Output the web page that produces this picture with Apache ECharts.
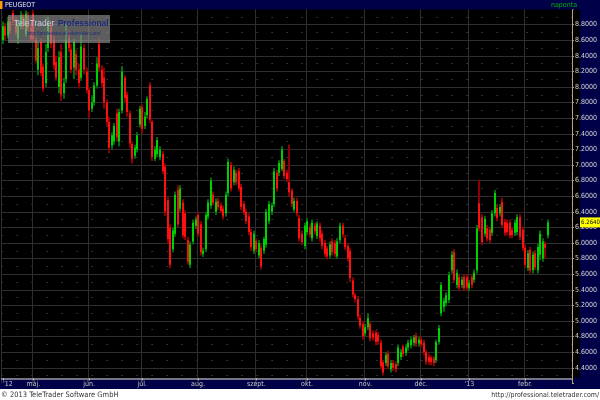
<!DOCTYPE html>
<html>
<head>
<meta charset="utf-8">
<title>PEUGEOT</title>
<script src="https://cdn.jsdelivr.net/npm/echarts@6/dist/echarts.min.js"></script>
<style>
  html, body { margin: 0; padding: 0; background: #ffffff; }
  #chart { width: 600px; height: 400px; }
</style>
</head>
<body>
<div id="chart"></div>
<script>
// trading calendar: first day, last slot on the axis, exchange holidays
var firstDay = '2012-04-13';
var lastSlot = '2013-02-27';
var holidays = ['2012-05-01', '2012-12-25', '2012-12-26', '2013-01-01'];
var monthNames = ['jan.', 'febr.', 'márc.', 'ápr.', 'máj.', 'jún.', 'júl.', 'aug.', 'szept.', 'okt.', 'nov.', 'dec.'];

// daily candles [open, close, low, high]
var candles = [
  [8.60, 8.78, 8.55, 8.84], [8.78, 8.66, 8.60, 8.82], [8.66, 8.84, 8.62, 8.90], [8.84, 8.72, 8.68, 8.90],
  [8.95, 8.86, 8.82, 8.99], [8.86, 8.70, 8.66, 8.90], [8.62, 8.80, 8.55, 8.86], [8.78, 8.92, 8.74, 8.97],
  [8.90, 8.78, 8.74, 8.94], [8.68, 8.94, 8.64, 8.98], [8.92, 8.76, 8.70, 8.96], [8.76, 8.62, 8.58, 8.82],
  [8.94, 8.62, 8.58, 8.98], [8.60, 8.34, 8.30, 8.64], [8.22, 8.50, 8.15, 8.58], [8.58, 8.18, 8.14, 8.62],
  [8.26, 7.98, 7.94, 8.30], [8.05, 8.45, 8.00, 8.55], [8.50, 8.82, 8.45, 8.90], [8.78, 8.55, 8.50, 8.84],
  [8.60, 8.28, 8.22, 8.66], [8.32, 8.12, 8.08, 8.40], [8.00, 8.38, 7.92, 8.46], [8.45, 7.90, 7.82, 8.55],
  [7.92, 8.05, 7.85, 8.12], [8.10, 8.60, 8.05, 8.80], [8.62, 8.50, 8.45, 8.72], [8.48, 8.22, 8.18, 8.55],
  [8.25, 8.58, 8.10, 8.62], [8.42, 8.22, 8.15, 8.48], [8.22, 8.05, 7.98, 8.30], [8.12, 8.52, 8.08, 8.70],
  [8.50, 8.22, 8.16, 8.55], [8.20, 7.96, 7.92, 8.25], [7.96, 7.70, 7.60, 8.00], [7.72, 7.80, 7.68, 7.88],
  [7.80, 8.02, 7.76, 8.06], [8.02, 8.30, 7.98, 8.38], [8.55, 8.25, 8.20, 8.62], [8.22, 8.05, 8.00, 8.28],
  [8.12, 7.80, 7.72, 8.25], [7.80, 7.55, 7.50, 7.84], [7.55, 7.22, 7.15, 7.62], [7.25, 7.38, 7.20, 7.42],
  [7.30, 7.50, 7.26, 7.54], [7.66, 7.36, 7.30, 7.72], [7.30, 7.68, 7.24, 7.72], [7.70, 8.20, 7.66, 8.27],
  [8.12, 7.86, 7.80, 8.15], [7.90, 7.68, 7.62, 7.94], [7.66, 7.28, 7.22, 7.70], [7.27, 7.08, 7.02, 7.30],
  [7.12, 7.22, 7.08, 7.26], [7.20, 7.38, 7.16, 7.42], [7.52, 7.72, 7.48, 7.76], [7.74, 7.46, 7.40, 7.78],
  [7.50, 7.62, 7.46, 7.68], [7.64, 7.85, 7.60, 7.88], [8.02, 7.58, 7.54, 8.06], [7.55, 7.10, 7.05, 7.58],
  [7.08, 7.20, 7.05, 7.24], [7.14, 7.32, 7.10, 7.36], [7.10, 7.20, 7.06, 7.24], [7.14, 6.92, 6.88, 7.18],
  [6.98, 6.40, 6.35, 7.02], [6.55, 6.05, 6.00, 6.60], [6.20, 5.72, 5.68, 6.24], [5.92, 6.16, 5.88, 6.20],
  [6.12, 6.62, 6.08, 6.66], [6.68, 6.24, 6.20, 6.74], [6.44, 6.70, 6.40, 6.74], [6.52, 6.10, 6.06, 6.56],
  [6.38, 6.08, 6.04, 6.42], [6.04, 5.76, 5.72, 6.08], [5.72, 5.98, 5.68, 6.02], [6.02, 6.26, 5.98, 6.30],
  [6.22, 6.30, 6.18, 6.34], [6.36, 6.12, 6.08, 6.40], [6.24, 5.88, 5.84, 6.28], [5.86, 5.90, 5.82, 5.94],
  [5.92, 6.36, 5.88, 6.40], [6.34, 6.52, 6.30, 6.56], [6.48, 6.80, 6.44, 6.84], [6.62, 6.52, 6.48, 6.66],
  [6.40, 6.53, 6.36, 6.57], [6.54, 6.46, 6.42, 6.58], [6.48, 6.41, 6.38, 6.52], [6.44, 6.34, 6.30, 6.48],
  [6.38, 6.62, 6.34, 6.66], [6.64, 7.04, 6.60, 7.08], [7.00, 6.70, 6.66, 7.04], [6.78, 6.94, 6.74, 6.98],
  [6.90, 6.78, 6.74, 6.94], [6.92, 6.70, 6.66, 6.96], [6.72, 6.46, 6.42, 6.76], [6.50, 6.39, 6.36, 6.54],
  [6.40, 6.28, 6.24, 6.44], [6.34, 6.14, 6.10, 6.38], [6.14, 5.95, 5.90, 6.18], [5.90, 6.12, 5.86, 6.16],
  [6.03, 5.92, 5.88, 6.06], [5.84, 6.00, 5.80, 6.04], [5.94, 5.70, 5.66, 5.98], [5.90, 6.05, 5.86, 6.08],
  [5.98, 6.40, 5.94, 6.44], [6.28, 6.50, 6.24, 6.54], [6.40, 6.48, 6.36, 6.52], [6.50, 6.92, 6.46, 6.96],
  [6.90, 6.70, 6.66, 6.94], [6.90, 7.03, 6.86, 7.06], [6.95, 7.20, 6.92, 7.24], [7.05, 6.86, 6.82, 7.08],
  [6.90, 6.82, 6.78, 6.94], [6.78, 6.65, 6.60, 7.26], [6.67, 6.50, 6.46, 6.70], [6.43, 6.54, 6.40, 6.58],
  [6.54, 6.38, 6.34, 6.58], [6.32, 6.06, 6.02, 6.36], [6.12, 6.01, 5.97, 6.16], [5.96, 6.22, 5.92, 6.26],
  [6.14, 6.28, 6.10, 6.32], [6.20, 6.11, 6.07, 6.24], [6.06, 6.26, 6.02, 6.30], [6.22, 6.15, 6.11, 6.26],
  [6.09, 6.25, 6.05, 6.28], [6.22, 6.06, 6.02, 6.26], [6.12, 5.96, 5.92, 6.16], [6.00, 5.86, 5.82, 6.04],
  [5.93, 5.83, 5.79, 5.96], [5.84, 5.98, 5.80, 6.02], [6.02, 5.88, 5.84, 6.06], [6.00, 5.86, 5.82, 6.04],
  [5.83, 6.02, 5.80, 6.06], [6.04, 6.22, 6.00, 6.26], [6.22, 6.11, 6.07, 6.26], [6.06, 5.95, 5.91, 6.10],
  [5.96, 5.80, 5.76, 6.00], [5.90, 5.55, 5.50, 5.94], [5.52, 5.34, 5.30, 5.56], [5.33, 5.28, 5.24, 5.36],
  [5.28, 5.06, 5.02, 5.32], [5.04, 4.94, 4.90, 5.08], [4.96, 4.80, 4.76, 5.00], [4.84, 4.92, 4.80, 4.96],
  [4.92, 5.04, 4.88, 5.10], [4.96, 4.78, 4.74, 5.00], [4.84, 4.79, 4.75, 4.88], [4.85, 4.73, 4.69, 4.88],
  [4.82, 4.74, 4.70, 4.86], [4.72, 4.42, 4.38, 4.76], [4.47, 4.34, 4.30, 4.50], [4.46, 4.56, 4.42, 4.60],
  [4.58, 4.42, 4.38, 4.62], [4.38, 4.46, 4.34, 4.50], [4.46, 4.40, 4.36, 4.50], [4.45, 4.38, 4.34, 4.48],
  [4.46, 4.66, 4.42, 4.70], [4.54, 4.60, 4.50, 4.64], [4.67, 4.58, 4.54, 4.70], [4.59, 4.66, 4.55, 4.70],
  [4.66, 4.72, 4.62, 4.76], [4.69, 4.76, 4.65, 4.80], [4.72, 4.79, 4.68, 4.82], [4.81, 4.71, 4.67, 4.85],
  [4.71, 4.76, 4.67, 4.80], [4.76, 4.70, 4.66, 4.80], [4.72, 4.60, 4.56, 4.76], [4.60, 4.48, 4.44, 4.63],
  [4.54, 4.48, 4.44, 4.58], [4.53, 4.47, 4.43, 4.56], [4.52, 4.46, 4.42, 4.55], [4.50, 4.73, 4.46, 4.76],
  [4.73, 4.91, 4.70, 4.95], [5.10, 5.46, 5.06, 5.50], [5.18, 5.26, 5.12, 5.30], [5.23, 5.33, 5.19, 5.37],
  [5.27, 5.59, 5.23, 5.63], [5.65, 5.85, 5.61, 5.89], [5.88, 5.53, 5.49, 5.92], [5.46, 5.62, 5.42, 5.66],
  [5.56, 5.43, 5.39, 5.60], [5.46, 5.53, 5.42, 5.57], [5.56, 5.42, 5.38, 5.60], [5.56, 5.43, 5.39, 5.60],
  [5.42, 5.49, 5.38, 5.53], [5.56, 5.46, 5.42, 5.60], [5.53, 5.62, 5.49, 5.66], [5.65, 6.19, 5.61, 6.23],
  [6.51, 6.19, 6.15, 6.81], [6.33, 6.01, 5.97, 6.37], [6.12, 6.31, 6.08, 6.35], [6.19, 6.06, 6.02, 6.23],
  [6.17, 6.04, 6.00, 6.21], [6.13, 6.38, 6.09, 6.42], [6.38, 6.64, 6.34, 6.68], [6.45, 6.32, 6.28, 6.49],
  [6.38, 6.46, 6.34, 6.50], [6.53, 6.23, 6.19, 6.58], [6.27, 6.13, 6.09, 6.31], [6.26, 6.14, 6.10, 6.30],
  [6.26, 6.10, 6.06, 6.30], [6.17, 6.10, 6.06, 6.20], [6.13, 6.26, 6.09, 6.30], [6.14, 6.33, 6.10, 6.37],
  [6.33, 6.08, 6.04, 6.37], [6.17, 5.94, 5.90, 6.21], [5.94, 5.72, 5.68, 5.98], [5.68, 5.87, 5.64, 5.91],
  [5.91, 5.65, 5.61, 5.95], [5.65, 5.85, 5.61, 5.89], [5.87, 5.69, 5.65, 5.91], [5.65, 5.95, 5.61, 5.99],
  [5.85, 6.12, 5.78, 6.16], [5.80, 6.02, 5.76, 6.06], [5.99, 5.94, 5.80, 6.02], [6.10, 6.264, 6.06, 6.30]
];

// price scale
var yMin = 4.2;
var yMax = 9.0;
var yStep = 0.2;

var narrow = "'Liberation Sans Narrow', 'DejaVu Sans Condensed', 'Liberation Sans', sans-serif";
var navy = '#000048';

function tradingDays(from, to) {
    var out = [];
    var d = new Date(from + 'T00:00:00Z');
    var end = new Date(to + 'T00:00:00Z');
    while (d <= end) {
        var s = d.toISOString().slice(0, 10);
        var wd = d.getUTCDay();
        if (wd !== 0 && wd !== 6 && holidays.indexOf(s) < 0) out.push(s);
        d.setUTCDate(d.getUTCDate() + 1);
    }
    return out;
}

var dates = tradingDays(firstDay, lastSlot);

// first trading day of each month gets a tick, a grid line and a label
function isMonthStart(i) {
    return i === 0 || dates[i].slice(5, 7) !== dates[i - 1].slice(5, 7);
}
function monthLabel(value, i) {
    if (i === 0) return "{first|'" + value.slice(2, 4) + '}';
    var m = +value.slice(5, 7) - 1;
    if (m === 0) return "'" + value.slice(2, 4);
    return monthNames[m];
}

var lastClose = candles[candles.length - 1][1];

var chart = echarts.init(document.getElementById('chart'));

function renderCandle(params, api) {
    var i = api.value(0);
    var o = api.coord([i, api.value(1)]);
    var c = api.coord([i, api.value(2)]);
    var lo = api.coord([i, api.value(3)]);
    var hi = api.coord([i, api.value(4)]);
    var up = api.value(2) >= api.value(1);
    var x = Math.round(o[0]) - 1;
    var top = Math.min(o[1], c[1]);
    var h = Math.max(Math.abs(o[1] - c[1]), 1);
    return {
        type: 'group',
        children: [
            { type: 'rect', shape: { x: x, y: hi[1], width: 2, height: lo[1] - hi[1] },
              style: { fill: up ? '#006a10' : '#8c0000' } },
            { type: 'rect', shape: { x: x, y: top, width: 2, height: h },
              style: { fill: up ? '#00d000' : '#ff1010' } }
        ]
    };
}

function baseGraphics() {
    return [
        // plot background and frame panels
        { type: 'rect', z: -1, silent: true, shape: { x: 0, y: 9, width: 580, height: 370 }, style: { fill: '#000000' } },
        { type: 'rect', z: -1, silent: true, shape: { x: 0, y: 378, width: 580, height: 11 }, style: { fill: navy } },
        { type: 'rect', z: -1, silent: true, shape: { x: 580, y: 0, width: 20, height: 389 }, style: { fill: navy } },
        { type: 'rect', z: 20, silent: true, shape: { x: 0, y: 0, width: 600, height: 9.5 }, style: { fill: navy } },
        { type: 'rect', z: 21, silent: true, shape: { x: 0, y: 1, width: 2.5, height: 8 }, style: { fill: '#ff9900' } },
        { type: 'text', z: 21, silent: true, x: 5, y: 5,
          style: { text: 'PEUGEOT', fill: '#e8e8e8', font: '7px ' + narrow, verticalAlign: 'middle' } },
        { type: 'text', z: 21, silent: true, x: 577, y: 5,
          style: { text: 'naponta', fill: '#00b000', font: '7px ' + narrow, align: 'right', verticalAlign: 'middle' } },
        // watermark
        { type: 'rect', z: 30, silent: true, shape: { x: 8, y: 15, width: 102, height: 28 },
          style: { fill: 'rgba(150,150,150,0.62)' } },
        { type: 'text', z: 31, silent: true, x: 14, y: 18,
          style: {
              text: '{t|TeleTrader} {p|Professional}',
              rich: {
                  t: { fill: '#c6cbe0', font: '8.5px "Liberation Sans", sans-serif' },
                  p: { fill: '#1c2a7a', font: 'bold 8.5px "Liberation Sans", sans-serif' }
              }
          } },
        { type: 'text', z: 31, silent: true, x: 27, y: 31,
          style: { text: 'http://professional.teletrader.com/', fill: '#1c2a7a', font: '5px "Liberation Sans", sans-serif' } },
        // footer
        { type: 'text', silent: true, x: 1, y: 395,
          style: { text: '\u00a9 2013 TeleTrader Software GmbH', fill: '#333333', font: '7.5px ' + narrow, verticalAlign: 'middle' } },
        { type: 'text', silent: true, x: 599, y: 395,
          style: { text: 'http://professional.teletrader.com/', fill: '#333333', font: '7px ' + narrow, align: 'right', verticalAlign: 'middle' } }
    ];
}

chart.setOption({
    backgroundColor: '#ffffff',
    animation: false,
    grid: { left: 0, right: 20, top: 9, bottom: 16.6 },
    xAxis: {
        type: 'category',
        data: dates,
        boundaryGap: true,
        offset: -5,
        axisLine: { show: true, lineStyle: { color: '#9c9c9c', width: 1.5 } },
        axisTick: { show: true, alignWithLabel: true, interval: isMonthStart, length: 2, lineStyle: { color: '#c8c8c8' } },
        axisLabel: {
            interval: isMonthStart,
            formatter: monthLabel,
            margin: 2,
            color: '#c8c8c8',
            fontSize: 7,
            fontFamily: narrow,
            rich: { first: { color: '#c8c8c8', fontSize: 7, fontFamily: narrow, padding: [0, 0, 0, 10] } }
        },
        splitLine: { show: true, interval: isMonthStart, lineStyle: { color: '#2e2e2e', width: 1 } }
    },
    yAxis: {
        type: 'value',
        position: 'right',
        min: yMin,
        max: yMax,
        interval: yStep,
        axisLine: { show: true, lineStyle: { color: '#b4a678', width: 1 } },
        axisTick: { show: true, inside: false, length: 2, lineStyle: { color: '#b4a678' } },
        minorTick: { show: true, splitNumber: 2, length: 1, lineStyle: { color: '#b4a678' } },
        axisLabel: {
            margin: 3,
            color: '#d6d6d6',
            fontSize: 7,
            fontFamily: narrow,
            formatter: function (v) {
                if (v < yMin + 0.05 || v > yMax - 0.05) return '';
                return v.toFixed(4);
            }
        },
        splitLine: { show: true, showMinLine: false, showMaxLine: false, lineStyle: { color: '#2e2e2e', width: 1 } },
        minorSplitLine: { show: true, lineStyle: { color: '#5c5c5c', width: 1, type: [1, 14] } }
    },
    graphic: baseGraphics(),
    series: [{
        type: 'custom',
        name: 'PEUGEOT',
        renderItem: renderCandle,
        encode: { x: 0, y: [1, 2, 3, 4] },
        data: candles.map(function (d, i) { return [i, d[0], d[1], d[2], d[3]]; }),
        clip: true
    }]
});

// last price marker on the price scale
var yLast = chart.convertToPixel({ yAxisIndex: 0 }, lastClose);
chart.setOption({
    graphic: baseGraphics().concat([
        { type: 'rect', z: 40, silent: true, shape: { x: 580, y: yLast - 5, width: 20, height: 10 }, style: { fill: '#ffff00' } },
        { type: 'text', z: 41, silent: true, x: 590.5, y: yLast,
          style: { text: lastClose.toFixed(4), fill: '#000000', font: '6px ' + narrow, align: 'center', verticalAlign: 'middle' } }
    ])
});
</script>
</body>
</html>
